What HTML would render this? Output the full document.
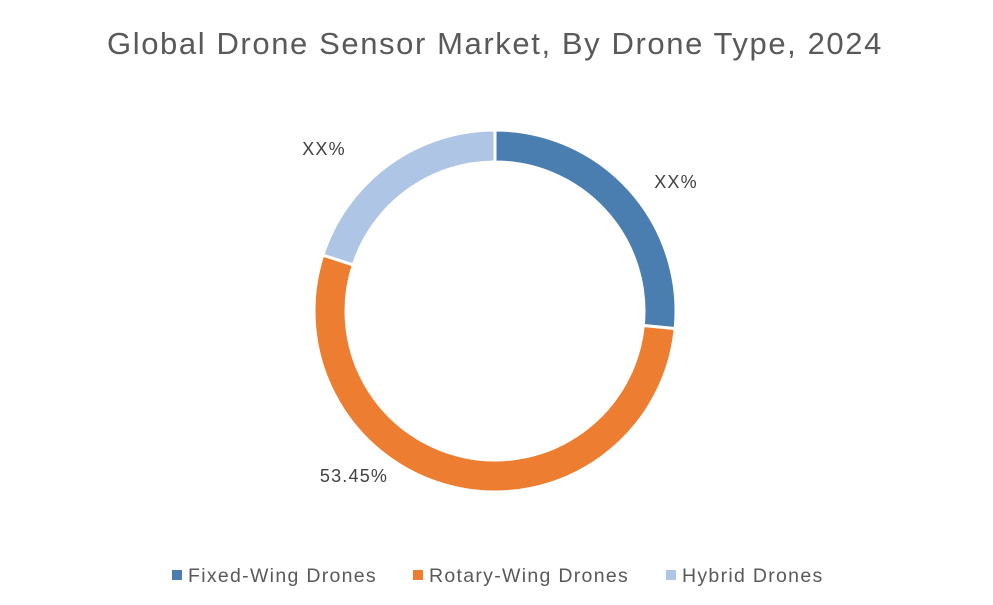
<!DOCTYPE html>
<html><head><meta charset="utf-8"><style>
body{margin:0;background:#fff;width:993px;height:600px;overflow:hidden;font-family:"Liberation Sans",sans-serif;}
</style></head><body>
<svg width="993" height="600">
<text x="495" y="54" text-anchor="middle" font-size="31" letter-spacing="1.6" fill="#595959">Global Drone Sensor Market, By Drone Type, 2024</text>
<g id="slices"></g>
<g id="labels"></g>
<g id="legend"></g>
</svg>
<script>
const categories=["Fixed-Wing Drones","Rotary-Wing Drones","Hybrid Drones"];
const values=[26.55,53.45,20.0];
const labels=["XX%","53.45%","XX%"];
const colors=["#4a7db0","#ed7d31","#aec5e6"];
const ns="http://www.w3.org/2000/svg";
const cx=495,cy=311,R=181,r=149;
const total=values.reduce((a,b)=>a+b,0);
function pt(a,rad){return [cx+rad*Math.sin(a),cy-rad*Math.cos(a)];}
let acc=0;
const sg=document.getElementById('slices'),lg=document.getElementById('labels');
const labelPos=[[676,188],[354,482],[324,155]];
values.forEach((v,i)=>{
 const a0=acc/total*2*Math.PI;acc+=v;const a1=acc/total*2*Math.PI;
 const large=(a1-a0)>Math.PI?1:0;
 const [x0,y0]=pt(a0,R),[x1,y1]=pt(a1,R),[x2,y2]=pt(a1,r),[x3,y3]=pt(a0,r);
 const p=document.createElementNS(ns,'path');
 p.setAttribute('d',`M${x0} ${y0}A${R} ${R} 0 ${large} 1 ${x1} ${y1}L${x2} ${y2}A${r} ${r} 0 ${large} 0 ${x3} ${y3}Z`);
 p.setAttribute('fill',colors[i]);p.setAttribute('stroke','#fff');p.setAttribute('stroke-width','3');
 
 
 sg.appendChild(p);
 const t=document.createElementNS(ns,'text');
 t.setAttribute('x',labelPos[i][0]);t.setAttribute('y',labelPos[i][1]);
 t.setAttribute('text-anchor','middle');t.setAttribute('font-size','18');t.setAttribute('letter-spacing','1.2');t.setAttribute('fill','#404040');
 t.textContent=labels[i];
 
 
 lg.appendChild(t);
});
const legX=[172,413,666],leg=document.getElementById('legend');
categories.forEach((c,i)=>{
 const s=document.createElementNS(ns,'rect');
 s.setAttribute('x',legX[i]);s.setAttribute('y',570);s.setAttribute('width',10);s.setAttribute('height',10);s.setAttribute('fill',colors[i]);
 
 
 leg.appendChild(s);
 const t=document.createElementNS(ns,'text');
 t.setAttribute('x',legX[i]+16);t.setAttribute('y',582);t.setAttribute('font-size','19.5');t.setAttribute('letter-spacing','1.3');t.setAttribute('fill','#595959');
 t.textContent=c;
 
 
 leg.appendChild(t);
});
</script>
</body></html>
